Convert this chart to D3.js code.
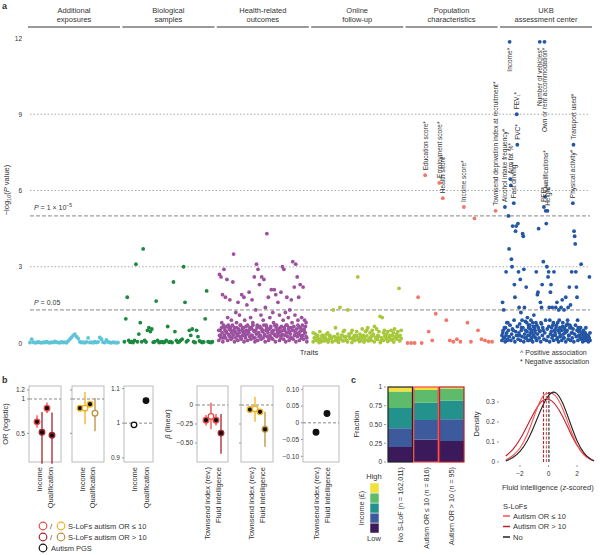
<!DOCTYPE html>
<html><head><meta charset="utf-8">
<script src="https://cdn.jsdelivr.net/npm/d3@7"></script>
<style>body{margin:0;background:#fff}text{font-family:"Liberation Sans",Arial,sans-serif;fill:#333}</style>
</head><body>
<script>
// ---- panel a data ----
var categories = ["Additional|exposures","Biological|samples","Health-related|outcomes","Online|follow-up","Population|characteristics","UKB|assessment center"];
var catColors = ["#5ec4d6","#1b8a3f","#9c519f","#a8c83c","#f2766a","#2456a6"];
var addExpVals = [0.02,0.15,0.03,0.01,0.02,0.04,0.02,0.01,0.03,0.02,0.05,0.02,0.01,0.03,0.02,0.06,0.03,0.02,0.01,0.04,0.02,0.03,0.01,0.08,0.15,0.22,0.3,0.35,0.25,0.18,0.05,0.02,0.03,0.01,0.04,0.2,0.02,0.03,0.01,0.05,0.02,0.04,0.22,0.15,0.03,0.02,0.12,0.04,0.02,0.01,0.03,0.02,0.01,0.02];
var bioVals = [0.05,0.95,1.8,0.1,0.03,0.05,0.02,0.1,3.1,0.05,0.35,0.8,0.05,3.7,0.1,0.04,0.5,0.6,0.45,0.55,0.03,0.05,1.65,0.1,0.02,0.03,0.05,0.02,0.04,0.1,0.65,0.03,0.05,0.02,2.4,0.45,0.1,0.03,0.05,0.1,0.15,3.0,1.6,0.05,0.1,0.5,0.3,0.55,0.05,0.02,0.5,0.25,0.08,0.05,0.02,0.04,0.95,2.05,0.05,0.03,0.02,0.05];
var healthBase = [0.1,0.3,0.5,0.2,0.6,0.4,0.05,0.7,0.3,0.5,0.2,0.45,0.65,0.1,0.35,0.55,0.25,0.6,0.15,0.4,0.7,0.3,0.5,0.05,0.45,0.2,0.6,0.35,0.1,0.55,0.4,0.25,0.7,0.15,0.5,0.3,0.6,0.05,0.45,0.2,0.65,0.35,0.1,0.5,0.4,0.25,0.55,0.15,0.6,0.3,0.7,0.2,0.45,0.05,0.5,0.35,0.6,0.1,0.4,0.25,0.65,0.3,0.15,0.55,0.45,0.2,0.7,0.35,0.05,0.5,0.6,0.25,0.4,0.1,0.55,0.3,0.65,0.2,0.45,0.15,0.5,0.35,0.7,0.05,0.6,0.25,0.4,0.3,0.55,0.1,0.45,0.2,0.65,0.35,0.5,0.15,0.6,0.3,0.05,0.4,0.7,0.25,0.55,0.1,0.45,0.35,0.6,0.2,0.5,0.15,0.65,0.3,0.4,0.05,0.55,0.25,0.7,0.35,0.1,0.45,0.6,0.2,0.5,0.3,0.15,0.55,0.4,0.65,0.25,0.05];
var healthVals = [0.5,2.7,0.3,2.6,0.8,1.9,0.2,2.9,0.6,1.8,0.4,2.5,1.0,0.7,0.3,1.7,0.5,0.9,0.2,2.4,3.5,0.6,0.4,1.2,0.8,0.3,1.6,0.5,1.1,0.7,0.2,1.9,0.6,0.4,1.8,0.9,0.3,0.5,1.5,0.7,0.4,2.0,0.6,1.0,0.3,1.7,0.8,0.5,2.6,0.2,1.3,3.1,0.7,2.9,0.4,2.3,0.6,1.1,2.6,0.5,0.9,2.5,0.3,1.4,0.7,4.3,0.5,1.8,0.2,1.0,0.6,2.1,0.4,1.2,0.8,2.1,0.3,1.9,0.7,0.5,1.6,0.4,1.1,0.6,2.0,0.3,3.0,0.9,2.9,0.5,1.2,0.7,1.8,0.4,1.0,0.6,1.3,0.2,1.7,0.8,3.2,0.5,2.2,1.1,3.1,0.4,2.6,0.9,1.8,0.6,2.3,0.3,1.0,0.7,2.2,0.5,0.9,0.4,0.8,0.2];
var onlineBase = [0.05,0.2,0.1,0.25,0.02,0.15,0.3,0.08,0.22,0.12,0.04,0.28,0.18,0.06,0.25,0.1,0.2,0.03,0.15,0.3,0.08,0.24,0.12,0.05,0.27,0.18,0.02,0.22,0.1,0.3,0.15,0.06,0.25,0.2,0.04,0.12,0.28,0.08,0.18,0.1,0.3,0.05,0.22,0.14,0.26,0.02,0.2,0.1,0.28,0.16,0.06,0.24,0.12,0.3,0.04,0.2,0.15,0.25,0.08,0.18];
var onlineVals = [0.4,0.2,0.35,0.1,0.3,0.15,0.45,0.05,0.25,0.3,0.2,0.1,0.35,0.4,0.15,0.3,0.2,0.05,1.3,0.25,0.6,0.1,0.35,0.2,1.4,0.15,0.3,0.45,0.5,0.25,0.1,1.3,0.35,0.2,0.4,0.5,0.15,0.3,0.25,0.45,2.6,0.2,0.35,0.1,0.55,0.3,0.2,0.45,0.5,0.6,0.15,0.4,0.25,0.5,0.35,0.65,0.2,0.55,0.3,0.45,1.05,0.1,1.0,0.4,0.5,0.25,0.35,0.45,0.2,0.3,0.5,0.15,0.4,0.55,0.25,0.35,0.45,2.15,0.3,0.5];
var popVals = [0,0,0,1.8,0,6.6,0.45,0.1,1.15,6.3,5.7,0.9,0.1,0.05,0.15,0.05,5.35,0.8,0.05,4.9,0.5,0.15,0.1,0.05,0.05,5.2];
var popLabels = [[5,"Education score*"],[9,"Employment score*"],[10,"Health score*"],[16,"Income score*"],[25,"Townsend deprivation index at recruitment*"]];
var ukbBase = [0.1,0.4,0.2,0.6,0.05,0.3,0.8,0.15,0.5,0.25,0.7,0.1,0.35,0.55,0.2,0.9,0.05,0.45,0.3,0.65,0.15,0.4,0.75,0.1,0.5,0.25,0.6,0.05,0.35,0.85,0.2,0.45,0.1,0.7,0.3,0.55,0.15,0.4,0.05,0.65,0.25,0.5,0.8,0.1,0.35,0.6,0.2,0.45,0.05,0.75,0.3,0.5,0.15,0.4,0.9,0.1,0.55,0.25,0.65,0.05,0.35,0.45,0.2,0.7,0.1,0.5,0.3,0.6,0.15,0.8,0.05,0.4,0.25,0.55,0.1,0.65,0.35,0.2,0.5,0.05,0.45,0.75,0.15,0.3,0.6,0.1,0.4,0.2,0.55,0.05,0.35,0.7,0.25,0.5,0.1,0.45,0.3,0.6,0.15,0.4,0.05,0.2,0.35,0.1,0.25,0.15,0.3,0.05,0.2,0.1];
var ukbVals = [0.3,1.6,0.5,1.3,0.2,5.35,0.6,2.8,0.4,0.1,
  0.8,5.0,3.7,11.85,6.45,6.2,3.3,3.0,4.6,0.5,
  5.5,2.3,1.8,4.4,4.6,9.0,7.8,4.7,2.8,1.4,
  0.3,2.5,1.2,0.6,0.9,4.3,4.2,2.9,1.4,0.2,
  0.5,2.2,0.8,1.0,0.3,0.6,0.1,0.7,0.4,0.9,
  0.2,0.5,0.8,0.3,1.1,0.6,0.4,0.2,2.8,0.7,
  1.9,2.0,4.5,0.5,11.85,1.6,0.8,1.4,2.3,0.6,
  3.2,5.35,11.85,5.75,5.2,4.7,3.0,5.2,2.6,2.8,
  1.4,0.9,2.0,2.3,0.6,1.4,0.3,0.8,2.8,0.5,
  0.4,1.4,0.7,1.6,0.2,0.5,1.3,0.9,0.6,0.3,
  1.4,0.5,1.7,0.8,0.2,1.3,0.6,0.4,1.8,0.7,
  0.5,0.9,1.4,0.3,2.2,0.7,1.5,0.6,2.8,0.4,
  5.5,7.8,4.4,4.2,3.9,2.8,2.2,1.8,0.9,0.6,
  0.3,0.5,0.2,0.6,3.1,0.4,0.2,0.3,0.5,0.1,
  0.2,0.4,0.6,0.3,0.1,0.2,0.3,0.2,2.6,0.4];
var ukbLabels = [[5,"Alcohol intake frequency*"],[14,"Arm fat %*"],[20,"Fast driving*"],[13,"Income*"],[25,"FEV\u2081*"],[26,"FVC*"],[71,"PEF*"],[64,"Number of vehicles*"],[72,"Own or rent accommodation*"],[73,"Qualifications*"],[77,"Height*"],[120,"Physical activity*"],[121,"Transport used*"]];
var yTicksA = [0,3,6,9,12];

// ---- panel b data ----
var orTicks = [0.5,1,1.2];
var orPoints = [
  {slot:0,est:0.63,lo:0.56,hi:0.72,col:"#f04848",open:false},
  {slot:1,est:0.51,lo:0.27,hi:0.77,col:"#a3252f",open:false},
  {slot:2,est:0.83,lo:0.75,hi:0.93,col:"#f04848",open:false},
  {slot:3,est:0.48,lo:0.27,hi:0.76,col:"#a3252f",open:false}];
var orPoints2 = [
  {slot:0,est:0.83,lo:0.81,hi:0.85,col:"#f0b020",open:false},
  {slot:1,est:0.83,lo:0.6,hi:1.15,col:"#f0b020",open:true},
  {slot:2,est:0.9,lo:0.88,hi:0.92,col:"#f0b020",open:false},
  {slot:3,est:0.75,lo:0.52,hi:1.02,col:"#b89040",open:true}];
var pgsOrTicks = [0.9,1,1.1];
var pgsOr = [{slot:0,est:0.995,open:true},{slot:1,est:1.065,open:false}];
var betaTicks = [-0.5,-0.25,0];
var betaPoints = [
  {slot:0,est:-0.2,lo:-0.27,hi:-0.13,col:"#f04848",open:false},
  {slot:1,est:-0.15,lo:-0.32,hi:0.03,col:"#f04848",open:true},
  {slot:2,est:-0.2,lo:-0.27,hi:-0.12,col:"#f04848",open:false},
  {slot:3,est:-0.37,lo:-0.64,hi:-0.12,col:"#a3252f",open:false}];
var betaPoints2 = [
  {slot:0,est:-0.06,lo:-0.08,hi:-0.04,col:"#f0b020",open:false},
  {slot:1,est:-0.05,lo:-0.22,hi:0.11,col:"#f0b020",open:true},
  {slot:2,est:-0.09,lo:-0.11,hi:-0.07,col:"#f0b020",open:false},
  {slot:3,est:-0.32,lo:-0.55,hi:-0.09,col:"#b89040",open:false}];
var pgsBetaTicks = [-0.1,-0.05,0,0.05,0.1];
var pgsBeta = [{slot:0,est:-0.028},{slot:1,est:0.028}];

// ---- panel c data ----
var groups = ["No S-LoF (n = 162,011)","Autism OR \u2264 10 (n = 816)","Autism OR > 10 (n = 95)"];
var groupStroke = ["#222","#f04848","#c0202a"];
var incomeColors = ["#3b1a5c","#3d5a9c","#23918c","#5dbb6b","#f2e13a"];
var incomeFrac = [[0.20,0.25,0.27,0.22,0.06],[0.30,0.26,0.23,0.17,0.04],[0.28,0.29,0.25,0.16,0.02]];
var densX = [-3,-2.5,-2,-1.5,-1,-0.5,0,0.5,1,1.5,2,2.5,3,3.2];
var densNo   = [0.005,0.02,0.05,0.1,0.18,0.27,0.34,0.36,0.3,0.2,0.1,0.04,0.01,0.006];
var densLe10 = [0.01,0.03,0.065,0.13,0.23,0.33,0.35,0.34,0.27,0.17,0.08,0.03,0.01,0.006];
var densGt10 = [0.03,0.06,0.11,0.18,0.25,0.31,0.32,0.29,0.23,0.15,0.08,0.035,0.012,0.007];
var densMeans = [[-0.35,"#c0202a"],[-0.15,"#f04848"],[0.03,"#222"]];

var svg = d3.select("body").append("svg").attr("width",600).attr("height",555);

// ===== panel a =====
svg.append("text").attr("x",2).attr("y",9).attr("font-size",9).attr("font-weight","bold").text("a");
var catX = d3.scaleBand().domain(d3.range(6)).range([28,592]).paddingInner(0.025);
var yA = d3.scaleLinear().domain([0,12]).range([343,38]);

categories.forEach(function(c,i){
  var x0 = catX(i), w = catX.bandwidth();
  svg.append("line").attr("x1",x0).attr("x2",x0+w).attr("y1",27).attr("y2",27).attr("stroke","#777").attr("stroke-width",1.5);
  c.split("|").forEach(function(s,k){
    svg.append("text").attr("x",x0+w/2).attr("y",13+k*9).attr("text-anchor","middle").attr("font-size",7.5).text(s);
  });
});

yTicksA.forEach(function(t){
  svg.append("text").attr("x",22).attr("y",yA(t)+2.5).attr("text-anchor","end").attr("font-size",6.5).text(t);
});
[9,6,3].forEach(function(t){
  svg.append("line").attr("x1",30).attr("x2",590).attr("y1",yA(t)).attr("y2",yA(t)).attr("stroke","#aaa").attr("stroke-dasharray","1.5,2");
});
[5,-Math.log10(0.05)].forEach(function(t){
  svg.append("line").attr("x1",30).attr("x2",590).attr("y1",yA(t)).attr("y2",yA(t)).attr("stroke","#888").attr("stroke-dasharray","4,2");
});
var pl = svg.append("text").attr("x",34).attr("y",yA(5)-6).attr("font-size",7);
pl.append("tspan").attr("font-style","italic").text("P");
pl.append("tspan").text(" = 1 \u00d7 10");
pl.append("tspan").attr("dy",-3).attr("font-size",5).text("\u22125");
var pl2 = svg.append("text").attr("x",34).attr("y",yA(1.3)-5).attr("font-size",7);
pl2.append("tspan").attr("font-style","italic").text("P");
pl2.append("tspan").text(" = 0.05");
var yl = svg.append("text").attr("transform","translate(9,190) rotate(-90)").attr("text-anchor","middle").attr("font-size",7.5);
yl.append("tspan").text("\u2212log");
yl.append("tspan").attr("dy",2).attr("font-size",5.5).text("10");
yl.append("tspan").attr("dy",-2).text("(");
yl.append("tspan").attr("font-style","italic").text("P");
yl.append("tspan").text(" value)");
svg.append("text").attr("x",309).attr("y",355).attr("text-anchor","middle").attr("font-size",7.5).text("Traits");
svg.append("text").attr("x",520).attr("y",355).attr("font-size",7).text("^ Positive association");
svg.append("text").attr("x",520).attr("y",364).attr("font-size",7).text("* Negative association");

function scatter(ci, vals, labels){
  var x0 = catX(ci), w = catX.bandwidth();
  var xs = d3.scaleLinear().domain([0, vals.length-1]).range([x0+2, x0+w-2]);
  svg.append("g").selectAll("circle").data(vals).enter().append("circle")
    .attr("cx",function(d,i){return xs(i);}).attr("cy",function(d){return yA(d);})
    .attr("r",1.9).attr("fill",catColors[ci]);
  (labels||[]).forEach(function(l){
    var v = vals[l[0]], px = xs(l[0]), py = yA(v);
    var top = v > 11;
    svg.append("text").attr("transform","translate("+(px+2.5)+","+(top ? py+6 : py-5)+") rotate(-90)")
      .attr("text-anchor", top ? "end" : "start").attr("font-size",6.5).text(l[1]);
  });
}
scatter(0, addExpVals);
scatter(1, bioVals);
scatter(2, healthBase);
scatter(2, healthVals);
scatter(3, onlineBase);
scatter(3, onlineVals);
scatter(4, popVals, popLabels);
scatter(5, ukbBase);
scatter(5, ukbVals, ukbLabels);

// ===== panel b =====
svg.append("text").attr("x",2).attr("y",383).attr("font-size",9).attr("font-weight","bold").text("b");
var bTop = 386, bBot = 462;
function box(x0,x1,y,ticks,fmt,showLabels,dashAt){
  svg.append("rect").attr("x",x0).attr("y",bTop).attr("width",x1-x0).attr("height",bBot-bTop).attr("fill","none").attr("stroke","#bbb");
  ticks.forEach(function(t){
    svg.append("line").attr("x1",x0-2).attr("x2",x0).attr("y1",y(t)).attr("y2",y(t)).attr("stroke","#999");
    if(showLabels) svg.append("text").attr("x",x0-4).attr("y",y(t)+2.3).attr("text-anchor","end").attr("font-size",6.5).text(fmt(t));
  });
  svg.append("line").attr("x1",x0).attr("x2",x1).attr("y1",y(dashAt)).attr("y2",y(dashAt)).attr("stroke","#888").attr("stroke-dasharray","3,2");
}
function pts(data,xs,y){
  data.forEach(function(d){
    var x = xs(d.slot);
    if(d.lo!==undefined) svg.append("line").attr("x1",x).attr("x2",x).attr("y1",y(d.lo)).attr("y2",y(d.hi)).attr("stroke",d.col).attr("stroke-width",1.3);
    svg.append("circle").attr("cx",x).attr("cy",y(d.est)).attr("r",2.8)
      .attr("fill", d.open ? "#fff" : "#111").attr("stroke", d.col || "#111").attr("stroke-width",1.3);
  });
}
function traitLabels(names,xs){
  names.forEach(function(n,i){
    svg.append("text").attr("transform","translate("+(xs[i]+2.5)+",467) rotate(-90)").attr("text-anchor","end").attr("font-size",7.5).text(n);
  });
}
var yOR = d3.scaleLog().domain([0.28,1.3]).range([bBot,bTop]);
box(29,61,yOR,orTicks,function(t){return t;},true,1);
pts(orPoints, d3.scalePoint().domain([0,1,2,3]).range([37,52]), yOR);
traitLabels(["Income","Qualification"],[39,50]);
box(72,104,yOR,orTicks,null,false,1);
pts(orPoints2, d3.scalePoint().domain([0,1,2,3]).range([80,95]), yOR);
traitLabels(["Income","Qualification"],[82,92]);
var yPO = d3.scaleLinear().domain([0.888,1.107]).range([bBot,bTop]);
box(124,153,yPO,pgsOrTicks,function(t){return t;},true,1);
pts(pgsOr, d3.scalePoint().domain([0,1]).range([134,146]), yPO);
traitLabels(["Income","Qualification"],[134,146]);
svg.append("text").attr("transform","translate(8,424) rotate(-90)").attr("text-anchor","middle").attr("font-size",7.5).text("OR (logistic)");

var yB = d3.scaleLinear().domain([-0.75,0.25]).range([bBot,bTop]);
box(197,228,yB,betaTicks,function(t){return t===0?"0":d3.format(".2f")(t).replace("-","\u2212");},true,0);
pts(betaPoints, d3.scalePoint().domain([0,1,2,3]).range([206,221]), yB);
traitLabels(["Townsend index (rev.)","Fluid intelligence"],[207,218]);
box(241,273,yB,betaTicks,null,false,0);
pts(betaPoints2, d3.scalePoint().domain([0,1,2,3]).range([250,265]), yB);
traitLabels(["Townsend index (rev.)","Fluid intelligence"],[251,262]);
var yPB = d3.scaleLinear().domain([-0.117,0.11]).range([bBot,bTop]);
box(303,339,yPB,pgsBetaTicks,function(t){return t===0?"0":d3.format(".2f")(t).replace("-","\u2212");},true,0);
pts(pgsBeta, d3.scalePoint().domain([0,1]).range([316,327]), yPB);
traitLabels(["Townsend index (rev.)","Fluid intelligence"],[316,327]);
var bl = svg.append("text").attr("transform","translate(170,424) rotate(-90)").attr("text-anchor","middle").attr("font-size",7.5);
bl.append("tspan").attr("font-style","italic").text("\u03b2");
bl.append("tspan").text(" (linear)");

// legend b
var legB = [[["#f04848","#f0b020"],"S-LoFs autism OR \u2264 10"],[["#a3252f","#b89040"],"S-LoFs autism OR > 10"],[["#111"],"Autism PGS"]];
legB.forEach(function(l,i){
  var y = 526 + i*11;
  svg.append("circle").attr("cx",43).attr("cy",y).attr("r",3.8).attr("fill","none").attr("stroke",l[0][0]).attr("stroke-width",1.2);
  if(l[0].length>1){
    svg.append("text").attr("x",50).attr("y",y+2.5).attr("font-size",7.5).text("/");
    svg.append("circle").attr("cx",61).attr("cy",y).attr("r",3.8).attr("fill","none").attr("stroke",l[0][1]).attr("stroke-width",1.2);
    svg.append("text").attr("x",68).attr("y",y+2.5).attr("font-size",7.5).text(l[1]);
  } else {
    svg.append("text").attr("x",51).attr("y",y+2.5).attr("font-size",7.5).text(l[1]);
  }
});

// ===== panel c =====
svg.append("text").attr("x",351).attr("y",383).attr("font-size",9).attr("font-weight","bold").text("c");
var xC = d3.scaleBand().domain(d3.range(3)).range([388,464]).paddingInner(0.05);
var yC = d3.scaleLinear().domain([0,1]).range([462,387]);
incomeFrac.forEach(function(fr,g){
  var cum = 0;
  fr.forEach(function(f,k){
    svg.append("rect").attr("x",xC(g)).attr("width",xC.bandwidth()).attr("y",yC(cum+f)).attr("height",yC(cum)-yC(cum+f)).attr("fill",incomeColors[k]);
    cum += f;
  });
  svg.append("rect").attr("x",xC(g)).attr("width",xC.bandwidth()).attr("y",yC(1)).attr("height",yC(0)-yC(1)).attr("fill","none").attr("stroke",groupStroke[g]).attr("stroke-width",1.2);
  svg.append("text").attr("transform","translate("+(xC(g)+xC.bandwidth()/2+2.5)+",467) rotate(-90)").attr("text-anchor","end").attr("font-size",7.2).text(groups[g]);
});
[0,0.25,0.5,0.75,1].forEach(function(t){
  svg.append("line").attr("x1",384).attr("x2",386).attr("y1",yC(t)).attr("y2",yC(t)).attr("stroke","#999");
  svg.append("text").attr("x",382).attr("y",yC(t)+2.3).attr("text-anchor","end").attr("font-size",6.5).text(t===0||t===1?t:d3.format(".2f")(t));
});
svg.append("text").attr("transform","translate(359,424) rotate(-90)").attr("text-anchor","middle").attr("font-size",7.5).text("Fraction");
// income legend
incomeColors.forEach(function(c,k){
  svg.append("rect").attr("x",370).attr("y",523-k*10).attr("width",9).attr("height",10).attr("fill",c).attr("stroke","#fff").attr("stroke-width",0.5);
});
svg.append("text").attr("x",374).attr("y",479).attr("text-anchor","middle").attr("font-size",7.5).text("High");
svg.append("text").attr("x",374).attr("y",541).attr("text-anchor","middle").attr("font-size",7.5).text("Low");
svg.append("text").attr("transform","translate(364,508) rotate(-90)").attr("text-anchor","middle").attr("font-size",7.2).text("Income (\u00a3)");

// density
var xD = d3.scaleLinear().domain([-2,2]).range([520,577]);
var yD = d3.scaleLinear().domain([0,0.3]).range([462,402]);
[0,0.1,0.2,0.3].forEach(function(t){
  svg.append("line").attr("x1",497).attr("x2",499).attr("y1",yD(t)).attr("y2",yD(t)).attr("stroke","#999");
  svg.append("text").attr("x",495).attr("y",yD(t)+2.3).attr("text-anchor","end").attr("font-size",6.5).text(t);
});
[-2,0,2].forEach(function(t){
  svg.append("line").attr("x1",xD(t)).attr("x2",xD(t)).attr("y1",465).attr("y2",467).attr("stroke","#999");
  svg.append("text").attr("x",xD(t)).attr("y",476).attr("text-anchor","middle").attr("font-size",6.5).text(t<0?"\u2212"+(-t):t);
});
svg.append("text").attr("transform","translate(479,424) rotate(-90)").attr("text-anchor","middle").attr("font-size",7.5).text("Density");
var fl = svg.append("text").attr("x",502).attr("y",490).attr("font-size",7.5);
fl.append("tspan").text("Fluid intelligence (");
fl.append("tspan").attr("font-style","italic").text("z");
fl.append("tspan").text("-scored)");
var line = d3.line().x(function(d,i){return xD(densX[i]);}).y(function(d){return yD(d);}).curve(d3.curveBasis);
[[densGt10,"#c0202a"],[densLe10,"#ff5050"],[densNo,"#222"]].forEach(function(s){
  svg.append("path").attr("d",line(s[0])).attr("fill","none").attr("stroke",s[1]).attr("stroke-width",1.1);
});
densMeans.forEach(function(m){
  svg.append("line").attr("x1",xD(m[0])).attr("x2",xD(m[0])).attr("y1",yD(0)).attr("y2",yD(0.35)).attr("stroke",m[1]).attr("stroke-width",1.1).attr("stroke-dasharray","3,1.5");
});
svg.append("text").attr("x",503).attr("y",509).attr("font-size",7.5).text("S-LoFs");
[["#ff5050","Autism OR \u2264 10"],["#c0202a","Autism OR > 10"],["#222","No"]].forEach(function(l,i){
  var y = 516 + i*10.5;
  svg.append("line").attr("x1",503).attr("x2",510).attr("y1",y).attr("y2",y).attr("stroke",l[0]).attr("stroke-width",1.5);
  svg.append("text").attr("x",513).attr("y",y+2.5).attr("font-size",7.5).text(l[1]);
});
</script>
</body></html>
